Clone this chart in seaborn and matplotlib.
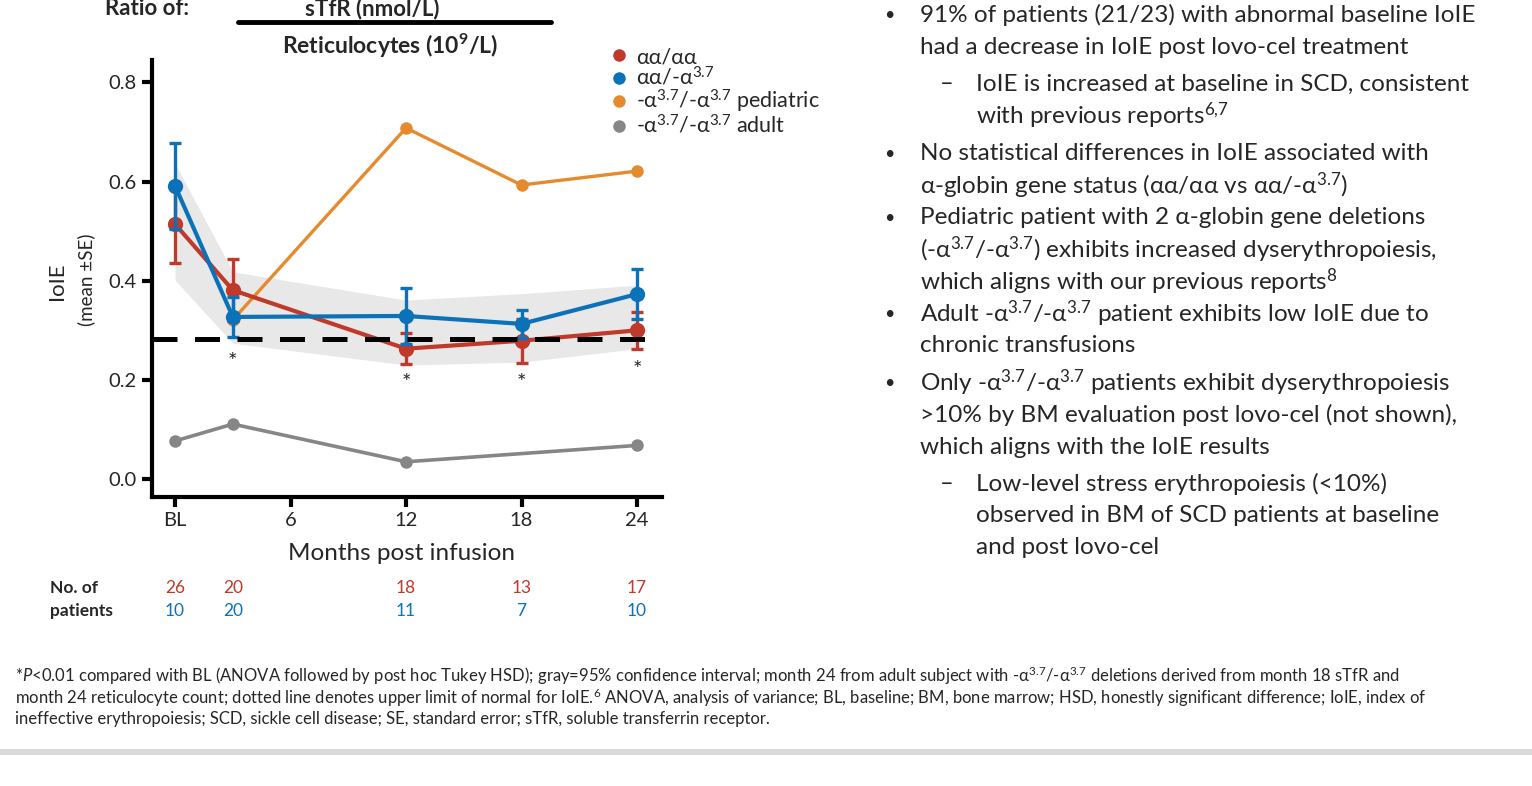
# IoIE over time by alpha-globin genotype, with notes panel and footnote
import numpy as np
import pandas as pd
import matplotlib
matplotlib.use("Agg")
import matplotlib.pyplot as plt
import seaborn as sns
from matplotlib.lines import Line2D
from matplotlib.patches import Rectangle
import matplotlib.transforms as mtransforms

# ── Data ─────────────────────────────────────────────────────
months = [0, 3, 12, 18, 24]
month_ticks = [0, 6, 12, 18, 24]
month_labels = ["BL", "6", "12", "18", "24"]

aa_mean = [0.514, 0.381, 0.263, 0.279, 0.300]      # αα/αα
aa_se = [0.078, 0.062, 0.031, 0.044, 0.037]
het_mean = [0.591, 0.327, 0.329, 0.313, 0.373]     # αα/-α3.7
het_se = [0.086, 0.040, 0.057, 0.028, 0.050]
ped_months = [3, 12, 18, 24]                       # -α3.7/-α3.7 pediatric
ped_vals = [0.321, 0.708, 0.593, 0.621]
adult_months = [0, 3, 12, 24]                      # -α3.7/-α3.7 adult
adult_vals = [0.077, 0.111, 0.035, 0.068]

ci_low = [0.401, 0.274, 0.230, 0.236, 0.263]
ci_high = [0.636, 0.418, 0.361, 0.374, 0.391]
uln = 0.282

sig_months = [3, 12, 18, 24]
sig_y = [0.236, 0.193, 0.193, 0.221]

n_aa = [26, 20, 18, 13, 17]
n_het = [10, 20, 11, 7, 10]

labels = ["αα/αα", "αα/-α$^{3.7}$", "-α$^{3.7}$/-α$^{3.7}$ pediatric",
          "-α$^{3.7}$/-α$^{3.7}$ adult"]
colors = ["#c0392b", "#0b72b9", "#e68a2e", "#868686"]

df = pd.concat([
    pd.DataFrame({"month": months, "ioie": aa_mean, "group": labels[0]}),
    pd.DataFrame({"month": months, "ioie": het_mean, "group": labels[1]}),
    pd.DataFrame({"month": ped_months, "ioie": ped_vals, "group": labels[2]}),
    pd.DataFrame({"month": adult_months, "ioie": adult_vals, "group": labels[3]}),
], ignore_index=True)

# ── Style ────────────────────────────────────────────────────
sns.set_theme(style="ticks")
plt.rcParams["font.family"] = ["Lato", "DejaVu Sans"]
plt.rcParams["mathtext.fontset"] = "custom"
plt.rcParams["mathtext.rm"] = "Lato"
plt.rcParams["mathtext.it"] = "Lato:italic"
plt.rcParams["mathtext.bf"] = "Lato:bold"

W, H = 1532, 786
fig = plt.figure(figsize=(W / 100, H / 100), dpi=100)
ax = fig.add_axes([152 / W, 1 - 497 / H, 510 / W, 437 / H])

# confidence band + upper limit of normal
ax.fill_between(months, ci_low, ci_high, color="#e8e8e8", lw=0, zorder=0)
ax.axhline(uln, color="black", lw=3.6, dashes=(5, 3.5), zorder=5)

# lines
styles = {labels[0]: (3, 11, 3), labels[1]: (3, 11, 4),
          labels[2]: (2.4, 9, 2), labels[3]: (2.6, 9, 1)}
for lab, col in zip(labels, colors):
    lw, ms, z = styles[lab]
    sns.lineplot(data=df[df["group"] == lab], x="month", y="ioie", color=col,
                 marker="o", markersize=ms, markeredgewidth=0, linewidth=lw,
                 errorbar=None, ax=ax, zorder=z)

ax.errorbar(months, aa_mean, yerr=aa_se, fmt="none", ecolor=colors[0],
            elinewidth=2.4, capsize=4, capthick=2.4, zorder=3)
ax.errorbar(months, het_mean, yerr=het_se, fmt="none", ecolor=colors[1],
            elinewidth=2.4, capsize=4, capthick=2.4, zorder=4)

for m, y in zip(sig_months, sig_y):
    ax.text(m, y, "*", ha="center", va="center", fontsize=16)

# axes
ax.set_xlim(-1.2, 25.3)
ax.set_ylim(-0.036, 0.845)
ax.set_xticks(month_ticks)
ax.set_xticklabels(month_labels)
ax.set_yticks([0, 0.2, 0.4, 0.6, 0.8])
ax.set_yticklabels(["0.0", "0.2", "0.4", "0.6", "0.8"])
ax.tick_params(labelsize=14.5, width=3, length=7, pad=4, color="black")
for s in ["left", "bottom"]:
    ax.spines[s].set_linewidth(3)
    ax.spines[s].set_color("black")
sns.despine(ax=ax)
ax.set_xlabel("")
ax.set_ylabel("")

fig.text(402 / W, 1 - 553 / H, "Months post infusion", ha="center",
         va="center", fontsize=17.5)
fig.text(57 / W, 1 - 281 / H, "IoIE", rotation=90, ha="center", va="center",
         fontsize=16)
fig.text(86 / W, 1 - 280 / H, "(mean ±SE)", rotation=90, ha="center",
         va="center", fontsize=13.5)

# legend
handles = [Line2D([], [], ls="", marker="o", markersize=9, color=c,
                  markeredgewidth=0) for c in colors]
ax.legend(handles, labels, loc="upper left",
          bbox_to_anchor=(610 / W, 1 - 47 / H), bbox_transform=fig.transFigure,
          frameon=False, fontsize=15.5, handlelength=0.8, handletextpad=0.4,
          labelspacing=-0.05, borderpad=0, borderaxespad=0)

# title ratio
fig.text(147 / W, 1 - 15 / H, "Ratio of:", ha="center", va="baseline",
         fontsize=16, fontweight="bold")
fig.text(372 / W, 1 - 15 / H, "sTfR (nmol/L)", ha="center", va="baseline",
         fontsize=16, fontweight="bold")
fig.add_artist(Line2D([238 / W, 551 / W], [1 - 22 / H] * 2, lw=3.5,
                      color="black"))
fig.text(390 / W, 1 - 46 / H, r"Reticulocytes (10$^{\mathbf{9}}$/L)",
         ha="center", va="center", fontsize=16.5, fontweight="bold")

# patient counts
tr = mtransforms.blended_transform_factory(ax.transData, fig.transFigure)
fig.text(50 / W, 1 - 588 / H, "No. of", ha="left", va="center", fontsize=12.5,
         fontweight="bold")
fig.text(50 / W, 1 - 611 / H, "patients", ha="left", va="center",
         fontsize=12.5, fontweight="bold")
for m, a, b in zip(months, n_aa, n_het):
    ax.text(m, 1 - 588 / H, str(a), transform=tr, ha="center", va="center",
            fontsize=12.5, color=colors[0])
    ax.text(m, 1 - 611 / H, str(b), transform=tr, ha="center", va="center",
            fontsize=12.5, color=colors[1])

# ── Notes panel ──────────────────────────────────────────────
notes = [
    ("b", "91% of patients (21/23) with abnormal baseline IoIE", 15),
    ("c", "had a decrease in IoIE post lovo-cel treatment", 47),
    ("d", "IoIE is increased at baseline in SCD, consistent", 84),
    ("c2", "with previous reports$^{6{,}7}$", 116),
    ("b", "No statistical differences in IoIE associated with", 154),
    ("c", "α-globin gene status (αα/αα vs αα/-α$^{3.7}$)", 186),
    ("b", "Pediatric patient with 2 α-globin gene deletions", 218),
    ("c", "(-α$^{3.7}$/-α$^{3.7}$) exhibits increased dyserythropoiesis,", 250),
    ("c", "which aligns with our previous reports$^{8}$", 282),
    ("b", "Adult -α$^{3.7}$/-α$^{3.7}$ patient exhibits low IoIE due to", 314),
    ("c", "chronic transfusions", 346),
    ("b", "Only -α$^{3.7}$/-α$^{3.7}$ patients exhibit dyserythropoiesis", 383),
    ("c", ">10% by BM evaluation post lovo-cel (not shown),", 415),
    ("c", "which aligns with the IoIE results", 447),
    ("d", "Low-level stress erythropoiesis (<10%)", 484),
    ("c2", "observed in BM of SCD patients at baseline", 516),
    ("c2", "and post lovo-cel", 548),
]
for kind, txt, y in notes:
    yy = 1 - y / H
    if kind == "b":
        fig.text(884 / W, yy, "•", ha="left", va="center", fontsize=13)
    if kind == "d":
        fig.text(940 / W, yy, "–", ha="left", va="center", fontsize=17)
    x = 920 if kind in ("b", "c") else 976
    fig.text(x / W, yy, txt, ha="left", va="center", fontsize=17.5)

# ── Footnote ─────────────────────────────────────────────────
foot = [
    "*$P$<0.01 compared with BL (ANOVA followed by post hoc Tukey HSD); "
    "gray=95% confidence interval; month 24 from adult subject with "
    "-α$^{3.7}$/-α$^{3.7}$ deletions derived from month 18 sTfR and",
    "month 24 reticulocyte count; dotted line denotes upper limit of normal "
    "for IoIE.$^{6}$ ANOVA, analysis of variance; BL, baseline; BM, bone marrow; "
    "HSD, honestly significant difference; IoIE, index of",
    "ineffective erythropoiesis; SCD, sickle cell disease; SE, standard error; "
    "sTfR, soluble transferrin receptor.",
]
for i, line in enumerate(foot):
    fig.text(15 / W, 1 - (676 + 21.5 * i) / H, line, ha="left", va="center",
             fontsize=12)

fig.add_artist(Rectangle((0, 1 - 755 / H), 1, 6 / H, transform=fig.transFigure,
                         color="#d9d9d9", lw=0))

fig.savefig("out.png", dpi=100)
